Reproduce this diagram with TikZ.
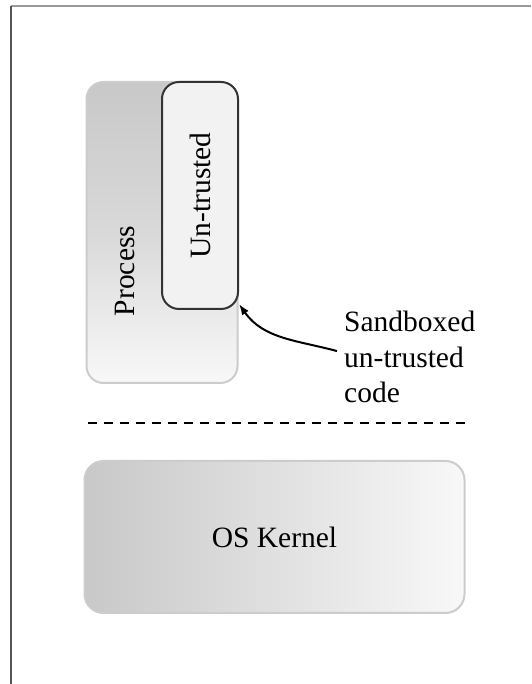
\documentclass[tikz,border=0pt]{standalone}
\usepackage{fontspec}
\setmainfont{Liberation Serif}
\usetikzlibrary{arrows.meta,calc,positioning}
\definecolor{sbframetop}{HTML}{999999}
\definecolor{sbframeside}{HTML}{555555}
\definecolor{sbshadedark}{HTML}{C8C8C8}
\definecolor{sbshadelight}{HTML}{F8F8F8}
\definecolor{sbedge}{HTML}{CCCCCC}
\definecolor{sbink}{HTML}{333333}
\definecolor{sbinner}{HTML}{F2F2F2}
\tikzset{
  sbbox/.style={draw=sbedge,line width=2pt,rounded corners=17pt,inner sep=0pt},
  sbtext/.style={font=\fontsize{29.5}{35.5}\selectfont,text=black},
  sbarrow/.style={draw=black,line width=2pt,-{Latex[length=11pt,width=8pt]}},
}
\begin{document}
\begin{tikzpicture}[x=1pt,y=1pt,
        sbseparator/.style={draw=black,line width=2pt,dash pattern=on 9pt off 7pt}]
  \path[use as bounding box] (0,0) rectangle (531,684);
  \coordinate (framecorner) at (11,678);
  \draw[sbframetop,line width=1.5pt] (framecorner) -- (531,678);
  \draw[sbframeside,line width=1.5pt] (framecorner) -- (11,0);
  \node[sbbox,top color=sbshadedark,bottom color=sbshadelight,middle color=sbshadedark!65!sbshadelight,
        minimum width=151pt,minimum height=301pt] (process) at (162,451.5) {};
  \node[sbtext,rotate=90] (proclabel) at (125,413) {Process};
  \node[sbbox,draw=sbink,fill=sbinner,sbtext,
        minimum width=76pt,minimum height=227pt] (untrusted) at (200,488.5) {\rotatebox{90}{Un-trusted}};
  \coordinate (sepwest) at (88,261);
  \coordinate (sepeast) at (465,261);
  \draw[sbseparator] (sepwest) -- (sepeast);
  \node[sbbox,left color=sbshadedark,right color=sbshadelight,sbtext,rounded corners=19pt,
        minimum width=380pt,minimum height=152pt] (kernel) at (274.5,147) {OS Kernel};
  \node[sbtext,align=left,anchor=north west,inner sep=0pt] (note) at (344,373) {Sandboxed\\un-trusted\\code};
  \draw[sbarrow] ([xshift=-7pt,yshift=6pt]note.west) to[out=165,in=-55] ([yshift=6pt]untrusted.south east);
\end{tikzpicture}
\end{document}
